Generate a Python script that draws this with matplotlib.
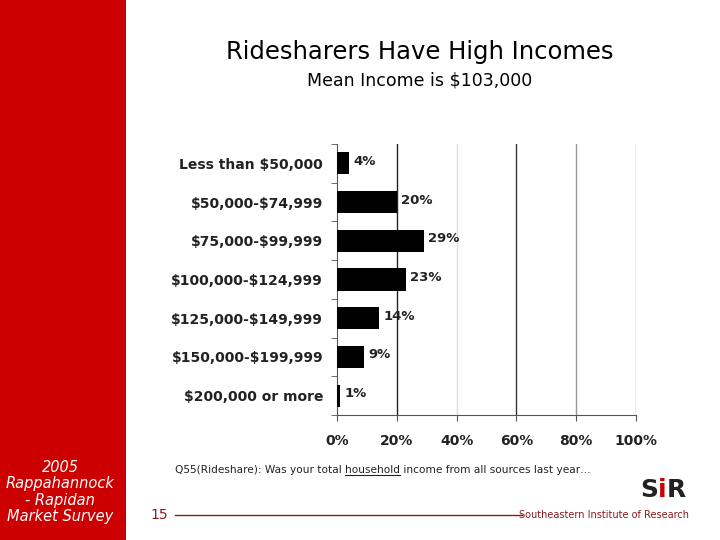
import matplotlib
matplotlib.use("Agg")
import matplotlib.pyplot as plt
from matplotlib.patches import Rectangle

categories = ["Less than $50,000", "$50,000-$74,999", "$75,000-$99,999",
              "$100,000-$124,999", "$125,000-$149,999", "$150,000-$199,999",
              "$200,000 or more"]
values = [4, 20, 29, 23, 14, 9, 1]
value_labels = ["4%", "20%", "29%", "23%", "14%", "9%", "1%"]
xticks = [0, 20, 40, 60, 80, 100]
xtick_labels = ["0%", "20%", "40%", "60%", "80%", "100%"]

W, H = 720, 540
fig = plt.figure(figsize=(7.2, 5.4), dpi=100)
fig.patch.set_facecolor("white")

# red sidebar
fig.patches.append(Rectangle((0, 0), 126 / W, 1, transform=fig.transFigure,
                             facecolor="#CC0000", edgecolor="none", zorder=0))

ax = fig.add_axes([337 / W, 1 - 415 / H, (636 - 337) / W, (415 - 144) / H])
n = len(categories)
ypos = list(range(n))
ax.barh(ypos, values, height=0.57, color="black", zorder=3)
ax.set_xlim(0, 100)
ax.set_ylim(n - 0.5, -0.5)
for sp in ["top", "right"]:
    ax.spines[sp].set_visible(False)
ax.spines["left"].set_color("#555555")
ax.spines["bottom"].set_color("#555555")

# gridlines
grid_colors = {20: "#222222", 40: "#dddddd", 60: "#333333", 80: "#999999", 100: "#999999"}
for xv, c in grid_colors.items():
    ax.axvline(xv, color=c, lw=1, zorder=1)

safe_cats = [c.replace("$", r"\$") for c in categories]
ax.set_yticks(ypos)
ax.set_yticklabels(safe_cats, fontsize=10, fontweight="bold", color="#222222")
ax.tick_params(axis="y", which="major", length=0, pad=10)
ax.set_yticks([i + 0.5 for i in range(-1, n)], minor=True)
ax.tick_params(axis="y", which="minor", length=4, color="#555555")
ax.set_xticks(xticks)
ax.set_xticklabels(xtick_labels, fontsize=10, fontweight="bold", color="#222222")
ax.tick_params(axis="x", length=4, color="#555555", pad=10)

for y, v, lab in zip(ypos, values, value_labels):
    ax.text(v + 1.5, y - 0.05, lab, va="center", ha="left", fontsize=9.5,
            fontweight="bold", color="#222222", zorder=4)

# titles
fig.text(420 / W, 1 - 52 / H, "Ridesharers Have High Incomes", ha="center",
         va="center", fontsize=17.5, color="black")
fig.text(420 / W, 1 - 80 / H, r"Mean Income is \$103,000", ha="center",
         va="center", fontsize=12.5, color="black")

# sidebar text
fig.text(60 / W, 1 - 492 / H, "2005\nRappahannock\n- Rapidan\nMarket Survey",
         ha="center", va="center", fontsize=10.5, color="white", style="italic",
         linespacing=1.1)

# footnote with underlined "household"
fs = 7.6
by = 1 - 473 / H
pre = "Q55(Rideshare): Was your total "
t1 = fig.text(175 / W, by, pre, ha="left", va="baseline", fontsize=fs,
              color="#222222")
fig.canvas.draw()
r = fig.canvas.get_renderer()
bb1 = t1.get_window_extent(r)
t2 = fig.text(bb1.x1 / W, by, "household", ha="left", va="baseline", fontsize=fs,
              color="#222222")
bb2 = t2.get_window_extent(r)
fig.text(bb2.x1 / W, by, " income from all sources last year\u2026", ha="left",
         va="baseline", fontsize=fs, color="#222222")
uy = 1 - 475 / H
fig.add_artist(plt.Line2D([bb2.x0 / W, bb2.x1 / W], [uy, uy],
                          transform=fig.transFigure, color="#222222", lw=0.8))

# bottom line
fig.text(150 / W, 1 - 515 / H, "15", ha="left", va="center", fontsize=10,
         color="#8B1A1A")
fig.add_artist(plt.Line2D([175 / W, 522 / W], [1 - 515 / H, 1 - 515 / H],
                          transform=fig.transFigure, color="#8B1A1A", lw=1))
fig.text(689 / W, 1 - 515 / H, "Southeastern Institute of Research", ha="right",
         va="center", fontsize=7, color="#8B1A1A")

# logo
fig.text(640 / W, 1 - 490 / H, "S", ha="left", va="center", fontsize=18,
         fontweight="bold", color="#222222")
fig.text(658 / W, 1 - 490 / H, "i", ha="left", va="center", fontsize=18,
         fontweight="bold", color="#CC0000")
fig.text(667 / W, 1 - 490 / H, "R", ha="left", va="center", fontsize=18,
         fontweight="bold", color="#222222")

fig.savefig("out.png", dpi=100)
